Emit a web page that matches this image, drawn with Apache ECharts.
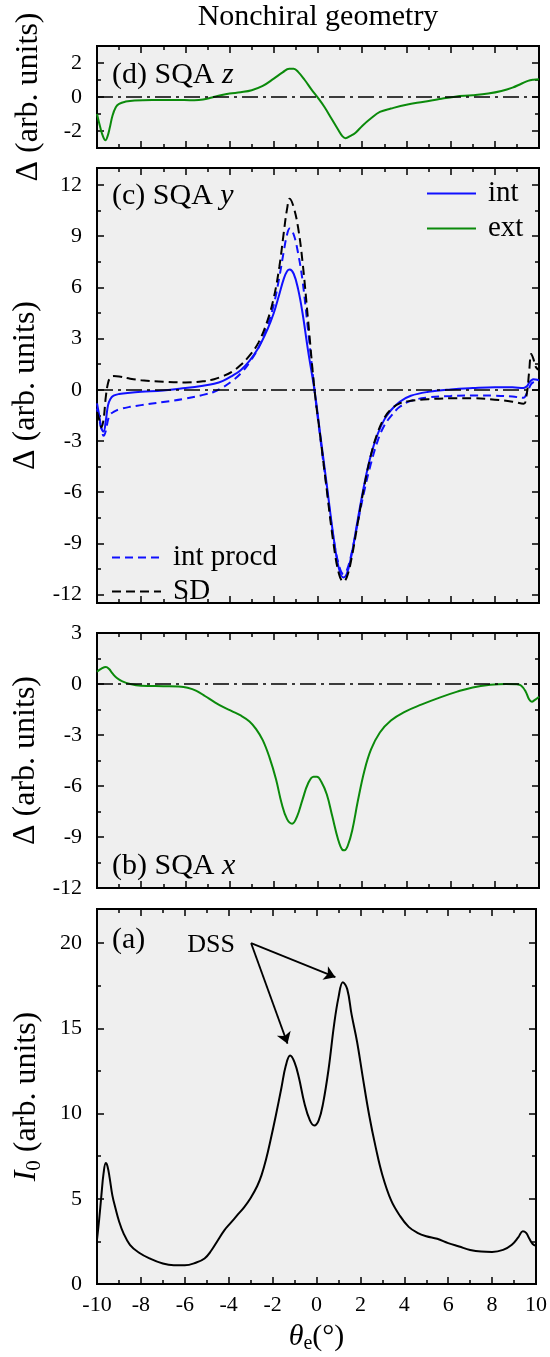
<!DOCTYPE html>
<html>
<head>
<meta charset="utf-8">
<title>Nonchiral geometry</title>
<script src="https://cdn.jsdelivr.net/npm/echarts@6/dist/echarts.min.js"></script>
<style>
  html, body { margin: 0; padding: 0; background: #fff; }
  #chart { width: 550px; height: 1357px; }
</style>
</head>
<body>
<div id="chart"></div>
<script>
var FONT = "'Liberation Serif', 'DejaVu Serif', serif";
var BLUE = '#1010ff', GREEN = '#0b8a0b', BG = '#efefef';

// (d) SQA z
var zTheta = [-10, -9.85, -9.72, -9.62, -9.52, -9.42, -9.3, -9.15, -9.0, -8.7, -8.3, -7.5, -6.5, -5.6, -5.2, -4.8, -4.4, -4.0, -3.5, -3.0, -2.5, -2.0, -1.6, -1.3, -1.1, -0.9, -0.6, -0.3, 0.0, 0.3, 0.6, 0.9, 1.1, 1.25, 1.45, 1.7, 2.0, 2.4, 2.8, 3.3, 4.0, 4.8, 5.5, 6.2, 7.0, 7.7, 8.3, 8.8, 9.2, 9.5, 9.75, 10];
var zExt = [-1.0, -1.8, -2.35, -2.55, -2.3, -1.8, -1.1, -0.6, -0.4, -0.27, -0.2, -0.17, -0.17, -0.19, -0.15, -0.03, 0.1, 0.2, 0.28, 0.4, 0.65, 1.08, 1.45, 1.66, 1.66, 1.48, 1.0, 0.45, -0.05, -0.6, -1.25, -1.9, -2.3, -2.42, -2.3, -2.1, -1.7, -1.25, -0.88, -0.68, -0.45, -0.28, -0.12, 0.02, 0.1, 0.2, 0.35, 0.55, 0.78, 0.95, 1.02, 1.05];

// (c) SQA y
var yTheta = [-10, -9.9, -9.8, -9.7, -9.6, -9.5, -9.4, -9.25, -9.0, -8.5, -8.0, -7.0, -6.0, -5.2, -4.7, -4.3, -3.9, -3.5, -3.1, -2.7, -2.3, -2.0, -1.75, -1.55, -1.4, -1.28, -1.1, -0.9, -0.7, -0.45, -0.15, 0.1, 0.4, 0.7, 0.95, 1.15, 1.3, 1.5, 1.8, 2.1, 2.4, 2.7, 3.0, 3.3, 3.7, 4.2, 5.0, 6.0, 7.0, 8.0, 8.8, 9.3, 9.45, 9.55, 9.65, 9.75, 9.85, 10];
var yInt = [-0.8, -1.5, -2.25, -2.45, -1.8, -0.9, -0.55, -0.35, -0.25, -0.17, -0.12, -0.05, 0.1, 0.24, 0.35, 0.52, 0.8, 1.15, 1.7, 2.45, 3.5, 4.5, 5.6, 6.5, 6.95, 7.05, 6.8, 5.9, 4.5, 2.3, -0.1, -2.6, -5.6, -8.6, -10.5, -11.0, -10.8, -9.8, -7.6, -5.5, -3.8, -2.6, -1.75, -1.2, -0.7, -0.35, -0.12, 0.02, 0.1, 0.15, 0.15, 0.1, 0.2, 0.4, 0.55, 0.62, 0.6, 0.55];
var yIntProcd = [-1.1, -1.7, -2.3, -2.7, -2.4, -1.75, -1.45, -1.3, -1.15, -1.0, -0.9, -0.72, -0.52, -0.3, -0.12, 0.15, 0.5, 0.95, 1.6, 2.45, 3.7, 5.0, 6.6, 8.1, 9.1, 9.45, 9.1, 8.0, 6.4, 3.5, -0.1, -2.8, -5.8, -8.7, -10.3, -10.8, -10.6, -9.7, -7.8, -5.9, -4.3, -3.0, -2.1, -1.55, -1.0, -0.65, -0.45, -0.36, -0.33, -0.35, -0.4, -0.47, -0.2, 0.1, 0.35, 0.45, 0.5, 0.5];
var ySD = [-1.3, -1.75, -2.2, -1.7, -0.4, 0.4, 0.7, 0.8, 0.78, 0.65, 0.56, 0.47, 0.43, 0.5, 0.62, 0.8, 1.05, 1.45, 2.0, 2.75, 4.0, 5.4, 7.2, 9.2, 10.6, 11.2, 10.7, 9.5, 7.5, 4.1, -0.1, -2.7, -5.9, -9.0, -10.8, -11.25, -11.0, -10.0, -7.8, -5.6, -3.8, -2.5, -1.65, -1.15, -0.8, -0.65, -0.55, -0.5, -0.5, -0.58, -0.7, -0.82, -0.2, 1.0, 2.1, 1.8, 1.35, 1.15];

// (b) SQA x
var xTheta = [-10, -9.8, -9.6, -9.45, -9.3, -9.1, -8.85, -8.5, -8.0, -7.0, -6.3, -5.9, -5.5, -5.1, -4.7, -4.3, -3.9, -3.5, -3.1, -2.8, -2.5, -2.2, -1.9, -1.65, -1.4, -1.17, -0.95, -0.7, -0.45, -0.2, -0.05, 0.15, 0.4, 0.65, 0.9, 1.1, 1.2, 1.35, 1.55, 1.8, 2.1, 2.4, 2.8, 3.3, 3.9, 4.7, 5.5, 6.3, 7.0, 7.8, 8.5, 9.0, 9.2, 9.4, 9.55, 9.68, 9.8, 10];
var xExt = [0.72, 0.9, 1.0, 0.88, 0.62, 0.35, 0.15, 0.0, -0.1, -0.13, -0.15, -0.22, -0.4, -0.72, -1.05, -1.35, -1.6, -1.85, -2.2, -2.65, -3.3, -4.3, -5.6, -7.0, -7.95, -8.22, -7.8, -6.8, -5.85, -5.45, -5.45, -5.75, -6.5, -7.8, -9.1, -9.75, -9.78, -9.5, -8.6, -6.9, -5.1, -3.85, -2.85, -2.15, -1.65, -1.2, -0.8, -0.45, -0.2, -0.05, 0.0, -0.02, -0.1, -0.45, -0.9, -1.05, -0.95, -0.75];

// (a) I0
var iTheta = [-10, -9.9, -9.8, -9.7, -9.6, -9.52, -9.42, -9.3, -9.15, -9.0, -8.8, -8.5, -8.1, -7.6, -7.0, -6.5, -6.0, -5.5, -5.1, -4.8, -4.5, -4.2, -3.9, -3.6, -3.3, -3.0, -2.7, -2.5, -2.3, -2.1, -1.85, -1.6, -1.4, -1.2, -1.0, -0.8, -0.55, -0.3, -0.1, 0.1, 0.3, 0.55, 0.8, 1.0, 1.2, 1.4, 1.6, 1.85, 2.1, 2.4, 2.7, 3.0, 3.4, 3.8, 4.2, 4.6, 5.0, 5.5, 6.0, 6.5, 7.0, 7.5, 8.0, 8.5, 8.9, 9.2, 9.4, 9.55, 9.7, 9.85, 10];
var iZero = [2.6, 3.8, 5.2, 6.5, 7.1, 6.9, 6.2, 5.2, 4.4, 3.7, 3.0, 2.3, 1.85, 1.5, 1.2, 1.1, 1.1, 1.25, 1.5, 1.95, 2.55, 3.15, 3.6, 4.05, 4.5, 5.05, 5.75, 6.4, 7.3, 8.4, 9.9, 11.5, 12.8, 13.4, 13.0, 12.1, 10.6, 9.6, 9.3, 9.6, 10.6, 12.6, 15.2, 16.8, 17.7, 17.3, 15.8, 14.2, 12.2, 9.9, 8.0, 6.4, 4.9, 4.0, 3.35, 3.0, 2.8, 2.65, 2.4, 2.2, 2.0, 1.9, 1.88, 2.0, 2.3, 2.75, 3.1, 3.0, 2.65, 2.35, 2.25];

// tick labels
var dTicks = [-2, 0, 2], dMinor = [-1, 1];
var cTicks = [-12, -9, -6, -3, 0, 3, 6, 9, 12], cMinor = [-10.5, -7.5, -4.5, -1.5, 1.5, 4.5, 7.5, 10.5];
var bTicks = [-12, -9, -6, -3, 0, 3], bMinor = [-10.5, -7.5, -4.5, -1.5, 1.5];
var aTicks = [0, 5, 10, 15, 20], aMinor = [2.5, 7.5, 12.5, 17.5];

// DSS arrows (theta, I0)
var dssFrom = [-2.98, 20.0];
var dssTo = [[-1.32, 14.1], [0.86, 18.0]];

function zip(xs, ys) {
  return xs.map(function (x, i) { return [x, ys[i]]; });
}

var grids = [
  { left: 97, right: 11, top: 46, height: 102 },
  { left: 97, right: 11, top: 168, height: 435 },
  { left: 97, right: 11, top: 633, height: 255 },
  { left: 97, right: 11, top: 909, height: 375 }
].map(function (g) {
  return Object.assign(g, { show: true, backgroundColor: BG, borderColor: '#000', borderWidth: 2 });
});

var tickLine = { color: '#000', width: 1.5 };
var xAxis = [], yAxis = [];

function addX(g, withLabels) {
  ['bottom', 'top'].forEach(function (pos) {
    var ax = {
      gridIndex: g, type: 'value', position: pos, min: -10, max: 10, interval: 2,
      axisLine: { show: false, onZero: false }, splitLine: { show: false },
      axisTick: { inside: true, length: 7, lineStyle: tickLine },
      minorTick: { show: true, splitNumber: 2, length: 4, lineStyle: tickLine },
      axisLabel: { show: false }
    };
    if (withLabels && pos === 'bottom') {
      ax.axisLabel = { show: true, margin: 10, color: '#000', fontFamily: FONT, fontSize: 22 };
      ax.name = '{i|θ}{s|e}(°)';
      ax.nameLocation = 'middle';
      ax.nameGap = 36;
      ax.nameTextStyle = {
        color: '#000', fontFamily: FONT, fontSize: 30,
        rich: {
          i: { fontFamily: FONT, fontSize: 30, fontStyle: 'italic' },
          s: { fontFamily: FONT, fontSize: 20, padding: [14, 0, 0, 0] }
        }
      };
    }
    xAxis.push(ax);
  });
}

function addY(g, min, max, major, minor, name, rich) {
  var first = yAxis.length;
  ['left', 'right'].forEach(function (pos) {
    var base = {
      gridIndex: g, type: 'value', position: pos, min: min, max: max,
      axisLine: { show: false, onZero: false }, splitLine: { show: false }
    };
    var ax = Object.assign({}, base, {
      axisTick: { inside: true, length: 7, lineStyle: tickLine, customValues: major },
      axisLabel: { show: false }
    });
    if (pos === 'left') {
      ax.axisLabel = { show: true, customValues: major, margin: 15, color: '#000', fontFamily: FONT, fontSize: 22 };
      ax.name = name;
      ax.nameLocation = 'middle';
      ax.nameGap = 52;
      ax.nameTextStyle = { color: '#000', fontFamily: FONT, fontSize: 32, rich: rich || {} };
    }
    yAxis.push(ax);
    yAxis.push(Object.assign({}, base, {
      axisTick: { inside: true, length: 4, lineStyle: tickLine, customValues: minor },
      axisLabel: { show: false }
    }));
  });
  return first;
}

addX(0, false); addX(1, false); addX(2, false); addX(3, true);
var yd = addY(0, -3, 3, dTicks, dMinor, 'Δ (arb. units)');
var yc = addY(1, -12.5, 13, cTicks, cMinor, 'Δ (arb. units)');
var yb = addY(2, -12, 3, bTicks, bMinor, 'Δ (arb. units)');
var ya = addY(3, 0, 22, aTicks, aMinor, '{i|I}{s|0} (arb. units)', {
  i: { fontFamily: FONT, fontSize: 32, fontStyle: 'italic' },
  s: { fontFamily: FONT, fontSize: 21, padding: [15, 0, 0, 0] }
});

var zeroLine = {
  silent: true, symbol: 'none', label: { show: false },
  lineStyle: { color: '#000', width: 1.5, type: [16, 5, 3, 5] },
  data: [{ yAxis: 0 }]
};

function line(name, g, yIdx, data, color, dash, extra) {
  return Object.assign({
    name: name, type: 'line', xAxisIndex: 2 * g, yAxisIndex: yIdx, data: data,
    showSymbol: false, symbol: 'none', smooth: 0.4,
    lineStyle: { color: color, width: 2, type: dash || 'solid' },
    itemStyle: { color: color },
    emphasis: { disabled: true }
  }, extra || {});
}

var series = [
  line('ext', 0, yd, zip(zTheta, zExt), GREEN, null, { markLine: zeroLine }),
  line('int', 1, yc, zip(yTheta, yInt), BLUE, null, { markLine: zeroLine }),
  line('int procd', 1, yc, zip(yTheta, yIntProcd), BLUE, [8, 5]),
  line('SD', 1, yc, zip(yTheta, ySD), '#000', [9, 5]),
  line('ext', 2, yb, zip(xTheta, xExt), GREEN, null, { markLine: zeroLine }),
  line('I0', 3, ya, zip(iTheta, iZero), '#000', null, {
    markLine: {
      silent: true, symbol: ['none', 'arrow'], symbolSize: 11, label: { show: false },
      lineStyle: { color: '#000', width: 1.8, type: 'solid' },
      data: dssTo.map(function (t) { return [{ coord: dssFrom }, { coord: t }]; })
    }
  })
];

var legendText = { color: '#000', fontFamily: FONT, fontSize: 29, lineHeight: 24, padding: [0, 0, 0, 7] };
var legendBase = {
  orient: 'vertical', padding: 0, itemWidth: 49, itemHeight: 14, selectedMode: false,
  itemStyle: { opacity: 0 }, textStyle: legendText
};

function label(x, y, text, size, align) {
  return {
    type: 'text', x: x, y: y, z: 10,
    style: {
      text: text, fill: '#000', fontFamily: FONT, fontSize: size,
      align: align || 'left', textAlign: align || 'left',
      verticalAlign: 'middle', textVerticalAlign: 'middle',
      rich: { i: { fontFamily: FONT, fontSize: size, fontStyle: 'italic' } }
    }
  };
}

var chart = echarts.init(document.getElementById('chart'));
chart.setOption({
  animation: false,
  backgroundColor: '#fff',
  grid: grids,
  xAxis: xAxis,
  yAxis: yAxis,
  legend: [
    Object.assign({}, legendBase, { data: ['int', 'ext'], left: 426, top: 179, itemGap: 6 }),
    Object.assign({}, legendBase, { data: ['int procd', 'SD'], left: 111, top: 543, itemGap: 5 })
  ],
  graphic: [
    label(318, 17, 'Nonchiral geometry', 30, 'center'),
    label(112, 75, '(d) SQA {i|z}', 30),
    label(112, 196, '(c) SQA {i|y}', 30),
    label(112, 866, '(b) SQA {i|x}', 30),
    label(112, 940, '(a)', 30),
    label(235, 945, 'DSS', 26, 'right')
  ],
  series: series
});
</script>
</body>
</html>
